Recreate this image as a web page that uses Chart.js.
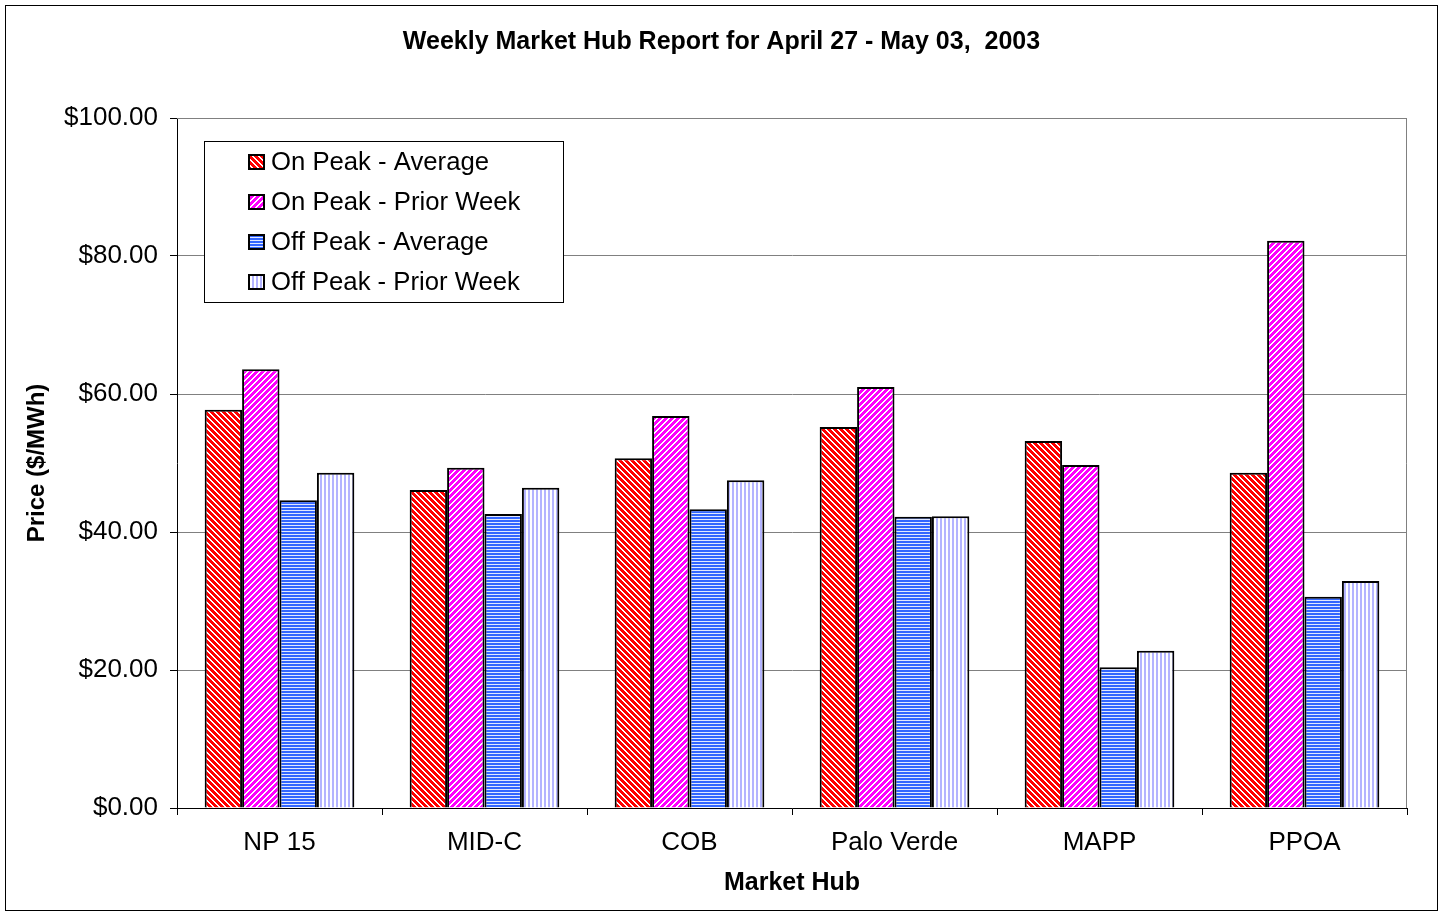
<!DOCTYPE html>
<html lang="en">
<head>
<meta charset="UTF-8">
<title>Weekly Market Hub Report</title>
<script src="https://cdn.jsdelivr.net/npm/chart.js"></script>
<style>
  body { margin: 0; background: #fff; }
  #wrap { width: 1443px; height: 914px; }
</style>
</head>
<body>
<div id="wrap"><canvas id="hubChart" width="1443" height="914"></canvas></div>
<script>
// data
const hubs = ['NP 15', 'MID-C', 'COB', 'Palo Verde', 'MAPP', 'PPOA'];
const onPeakAvg = [57.7, 46.1, 50.7, 55.2, 53.2, 48.6];
const onPeakPrior = [63.6, 49.3, 56.8, 61.0, 49.7, 82.2];
const offPeakAvg = [44.6, 42.6, 43.3, 42.2, 20.4, 30.6];
const offPeakPrior = [48.6, 46.4, 47.5, 42.3, 22.8, 32.9];
const seriesNames = ['On Peak - Average', 'On Peak - Prior Week', 'Off Peak - Average', 'Off Peak - Prior Week'];
const yTicks = [0, 20, 40, 60, 80, 100];

const FONT = "'Liberation Sans', Arial, sans-serif";
const ctx = document.getElementById('hubChart').getContext('2d');

// small tiles used as bar fills (hatching like the old excel chart)
function makePattern(size, pick) {
    const c = document.createElement('canvas');
    c.width = size; c.height = size;
    const g = c.getContext('2d');
    const img = g.createImageData(size, size);
    for (let y = 0; y < size; y++) {
        for (let x = 0; x < size; x++) {
            const col = pick(x, y, size);
            const i = (y * size + x) * 4;
            img.data[i] = col[0]; img.data[i + 1] = col[1]; img.data[i + 2] = col[2]; img.data[i + 3] = 255;
        }
    }
    g.putImageData(img, 0, 0);
    return ctx.createPattern(c, 'repeat');
}
const WHITE = [255, 255, 255];
const redHatch = makePattern(6, (x, y, s) => ((x - y + s * 2) % s) < 2 ? WHITE : [255, 0, 0]);
const magentaHatch = makePattern(6, (x, y, s) => ((x + y) % s) < 2 ? WHITE : [255, 0, 255]);
const blueLines = makePattern(3, (x, y) => y % 3 === 0 ? [225, 232, 255] : [51, 102, 255]);
const lavenderLines = makePattern(4, (x) => x % 4 < 2 ? [180, 180, 255] : WHITE);
const fills = [redHatch, magentaHatch, blueLines, lavenderLines];

// legend box inside the plot, plus outer frame
const boxLegend = {
    id: 'boxLegend',
    afterDraw(chart) {
        const c = chart.ctx;
        const area = chart.chartArea;
        c.save();
        // plot area frame (top / right)
        c.strokeStyle = '#808080';
        c.lineWidth = 1;
        c.beginPath();
        c.moveTo(area.left, area.top + 0.5);
        c.lineTo(area.right - 0.5, area.top + 0.5);
        c.lineTo(area.right - 0.5, area.bottom);
        c.stroke();

        const bx = area.left + 27, by = area.top + 23, bw = 359, bh = 161;
        c.fillStyle = '#fff';
        c.fillRect(bx, by, bw, bh);
        c.strokeStyle = '#000';
        c.strokeRect(bx + 0.5, by + 0.5, bw, bh);
        c.font = '25.7px ' + FONT;
        c.textBaseline = 'middle';
        chart.data.datasets.forEach((ds, i) => {
            const cy = by + 21 + i * 40;
            c.fillStyle = '#000';
            c.fillRect(bx + 44, cy - 8, 17, 16);
            c.fillStyle = ds.backgroundColor;
            c.fillRect(bx + 46, cy - 6, 13, 12);
            c.fillStyle = '#000';
            c.fillText(ds.label, bx + 67, cy + 1);
        });

        // outer chart border
        c.strokeStyle = '#000';
        c.strokeRect(5.5, 5.5, 1432, 905);
        c.restore();
    }
};

const seriesValues = [onPeakAvg, onPeakPrior, offPeakAvg, offPeakPrior];

new Chart(ctx, {
    type: 'bar',
    data: {
        labels: hubs,
        datasets: seriesValues.map((vals, i) => ({
            label: seriesNames[i],
            data: vals,
            backgroundColor: fills[i],
            borderColor: '#000',
            borderWidth: 2,
            borderSkipped: 'start',
            inflateAmount: 0,
            categoryPercentage: 0.73,
            barPercentage: 1.0
        }))
    },
    options: {
        responsive: false,
        animation: false,
        layout: { padding: { left: 36, right: 36, top: 0, bottom: 10 } },
        plugins: {
            legend: { display: false },
            tooltip: { enabled: false },
            title: {
                display: true,
                text: 'Weekly Market Hub Report for April 27 - May 03,  2003',
                color: '#000',
                font: { family: FONT, size: 25, weight: 'bold' },
                padding: { top: 27, bottom: 61 }
            }
        },
        scales: {
            x: {
                afterFit: (s) => { s.height = 96; },
                grid: { offset: true, drawOnChartArea: false, drawTicks: true, tickLength: 7, color: '#000', tickColor: '#000' },
                border: { color: '#000', width: 1 },
                ticks: { color: '#000', font: { family: FONT, size: 26 }, padding: 12 },
                title: {
                    display: true, text: 'Market Hub', color: '#000',
                    font: { family: FONT, size: 25, weight: 'bold' },
                    padding: { top: 0, bottom: 6 }
                }
            },
            y: {
                min: 0,
                max: 100,
                afterFit: (s) => { s.width = 141; },
                afterBuildTicks: (s) => { s.ticks = yTicks.map(v => ({ value: v })); },
                grid: { color: '#808080', tickColor: '#000', tickLength: 7 },
                border: { color: '#000', width: 1 },
                ticks: {
                    color: '#000',
                    font: { family: FONT, size: 26 },
                    padding: 12,
                    callback: (v) => '$' + Number(v).toFixed(2)
                },
                title: {
                    display: true, text: 'Price ($/MWh)', color: '#000',
                    font: { family: FONT, size: 24, weight: 'bold' },
                    padding: { top: -13.4, bottom: 0 }
                }
            }
        }
    },
    plugins: [boxLegend]
});
</script>
</body>
</html>
